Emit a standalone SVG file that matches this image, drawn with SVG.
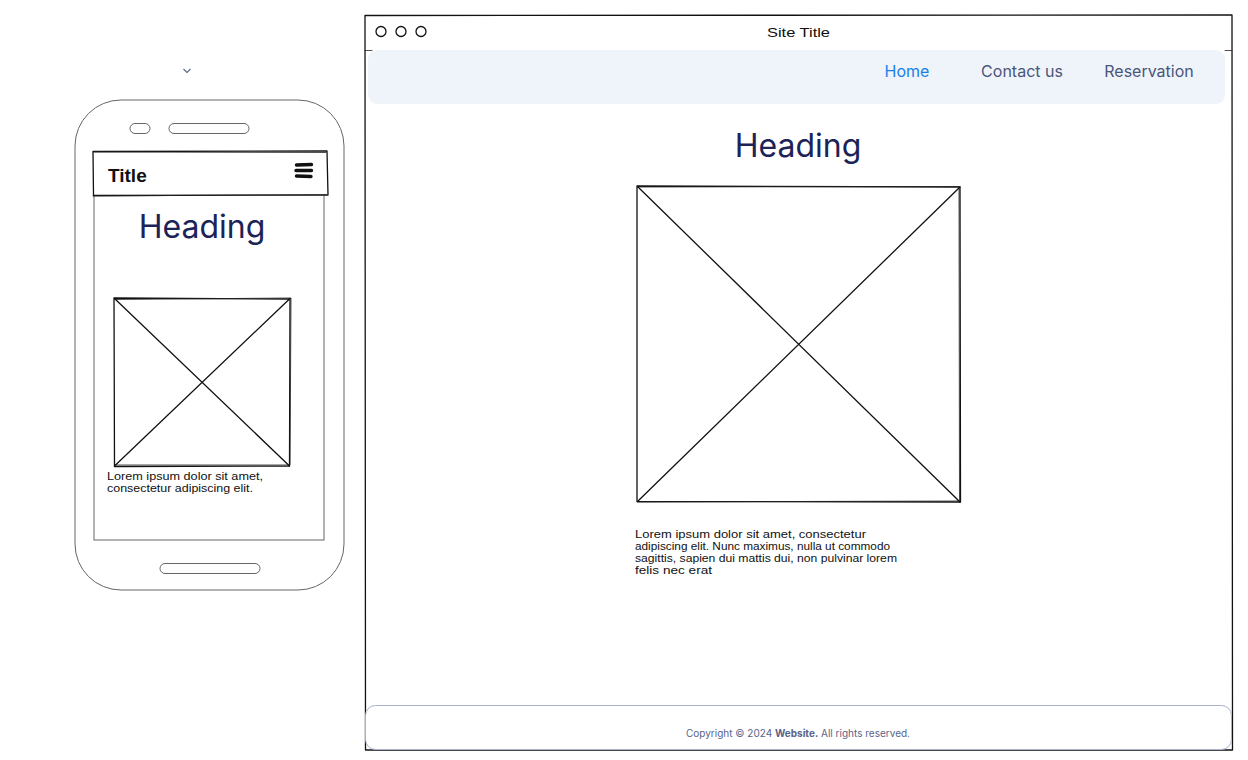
<svg xmlns="http://www.w3.org/2000/svg" width="1248" height="760" viewBox="0 0 1248 760">
  <style>
    .sketch { fill: none; stroke: #111; stroke-width: 1.3; stroke-linecap: round; stroke-linejoin: round; }
    .sketch2 { fill: none; stroke: #222; stroke-width: 0.8; stroke-linecap: round; }
    .device { fill: #fff; stroke: #666; stroke-width: 1; }
    .hand { font-family: "Liberation Sans", Arial, sans-serif; fill: #111; }
    .ui { font-family: Inter, "Noto Sans", "Liberation Sans", sans-serif; }
    .heading { font-family: Inter, "Noto Sans", "Liberation Sans", sans-serif; fill: #1b2357; font-size: 32px; text-anchor: middle; }
    .nav { font-size: 16px; fill: #4a5578; text-anchor: middle; }
  </style>

  <!-- collapse chevron above the phone -->
  <g id="chevron">
    <path d="M183.5 69 L187 72.5 L190.5 69" fill="none" stroke="#5a6488" stroke-width="1.1"/>
  </g>

  <!-- mobile mock-up -->
  <g id="phone">
    <rect class="device" x="75" y="100" width="269" height="490" rx="46"/>
    <rect class="device" x="130" y="123.5" width="20" height="10" rx="5"/>
    <rect class="device" x="169" y="123.5" width="80" height="10" rx="5"/>
    <rect class="device" x="94" y="152" width="230" height="388"/>
    <rect class="device" x="160" y="563.5" width="100" height="10" rx="5"/>
  </g>

  <g id="phone-header">
    <rect x="93" y="151" width="234" height="44" fill="#fff"/>
    <path class="sketch" d="M93 151.5 L327 151 L328 195 L93.5 195.5 Z"/>
    <path class="sketch2" d="M94 152 L326 152.5 M93 196 L327 194.5"/>
    <text class="hand" x="108" y="182" font-size="19" font-weight="bold">Title</text>
    <path d="M296.5 165 L311.5 164.5 M296 170.5 L311.5 170.5 M296.5 176 L311 176.5" stroke="#111" stroke-width="3.4" stroke-linecap="round" fill="none"/>
  </g>

  <g id="phone-heading">
    <text class="heading" x="202" y="238">Heading</text>
  </g>

  <g id="phone-image">
    <path class="sketch" d="M114 298 L290 299 L289.5 466 L114.5 466.5 Z"/>
    <path class="sketch2" d="M115 299.5 L291 298 L290 465 L115 465"/>
    <path class="sketch" d="M114.5 298.5 L289.5 466 M290 298.5 L114.5 466"/>
  </g>

  <g id="phone-text">
    <text class="hand" font-size="11.5">
      <tspan x="107" y="480" textLength="156" lengthAdjust="spacingAndGlyphs">Lorem ipsum dolor sit amet,</tspan>
      <tspan x="107" y="492" textLength="146" lengthAdjust="spacingAndGlyphs">consectetur adipiscing elit.</tspan>
    </text>
  </g>

  <!-- desktop browser mock-up -->
  <g id="browser">
    <rect x="365" y="15" width="867" height="735" fill="#fff"/>
    <path class="sketch" d="M365 15.5 L1232 15 L1232.5 750 L365.5 750 Z"/>
    <path class="sketch2" d="M365 50.5 L372 50.5 M1225 50.5 L1232 50.5"/>
    <circle cx="381" cy="31.5" r="5" fill="none" stroke="#111" stroke-width="1.3"/>
    <circle cx="401" cy="31.5" r="5" fill="none" stroke="#111" stroke-width="1.3"/>
    <circle cx="421" cy="31.5" r="5" fill="none" stroke="#111" stroke-width="1.3"/>
    <text class="hand" x="767" y="37" font-size="13" textLength="63" lengthAdjust="spacingAndGlyphs">Site Title</text>
  </g>

  <g id="navbar">
    <rect x="368" y="50" width="857" height="54" rx="9" fill="#eff4fb"/>
    <text class="ui nav" x="907" y="77" style="fill:#1a7ee8">Home</text>
    <text class="ui nav" x="1022" y="77">Contact us</text>
    <text class="ui nav" x="1149" y="77">Reservation</text>
  </g>

  <g id="desktop-heading">
    <text class="heading" x="798" y="157">Heading</text>
  </g>

  <g id="desktop-image">
    <path class="sketch" d="M637 186 L960 187 L960.5 502 L637 501.5 Z"/>
    <path class="sketch2" d="M638 187 L959 186.5 L959.5 501 L638 502"/>
    <path class="sketch" d="M637.5 186.5 L960 502 M960 187 L637.5 501.5"/>
  </g>

  <g id="desktop-text">
    <text class="hand" font-size="11.5">
      <tspan x="635" y="538" textLength="231" lengthAdjust="spacingAndGlyphs">Lorem ipsum dolor sit amet, consectetur</tspan>
      <tspan x="635" y="550" textLength="255" lengthAdjust="spacingAndGlyphs">adipiscing elit. Nunc maximus, nulla ut commodo</tspan>
      <tspan x="635" y="562" textLength="262" lengthAdjust="spacingAndGlyphs">sagittis, sapien dui mattis dui, non pulvinar lorem</tspan>
      <tspan x="635" y="574" textLength="77" lengthAdjust="spacingAndGlyphs">felis nec erat</tspan>
    </text>
  </g>

  <g id="footer">
    <rect x="365.5" y="705.5" width="866" height="44" rx="10" fill="#fff" stroke="#a8b0cc" stroke-width="1"/>
    <text class="ui" x="798" y="737" font-size="10" fill="#5a6488" text-anchor="middle">Copyright © 2024 <tspan font-weight="bold">Website.</tspan> All rights reserved.</text>
  </g>
</svg>
